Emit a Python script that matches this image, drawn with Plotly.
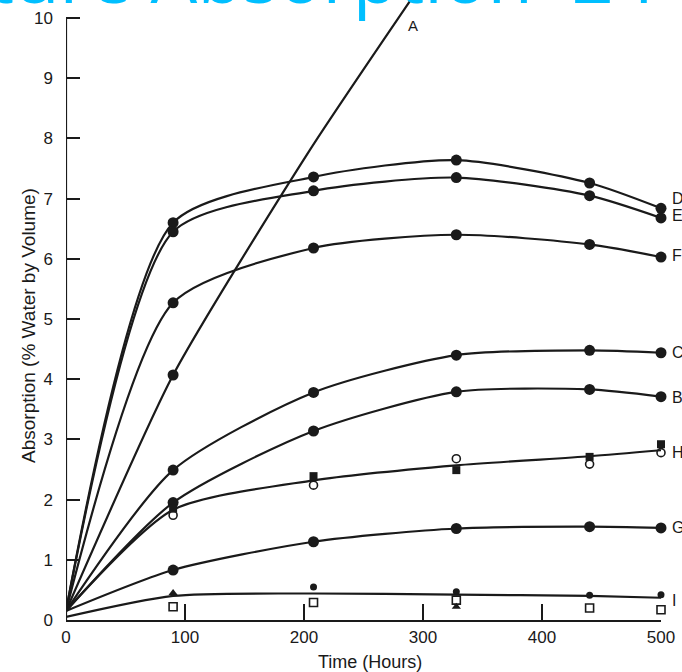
import plotly.graph_objects as go

# ---------------- data ----------------
time_h = [0, 90, 208, 328, 440, 500]

series_D = [0.15, 6.60, 7.36, 7.64, 7.26, 6.84]
series_E = [0.15, 6.45, 7.13, 7.35, 7.05, 6.68]
series_F = [0.15, 5.27, 6.18, 6.40, 6.24, 6.03]
series_C = [0.15, 2.49, 3.78, 4.40, 4.48, 4.44]
series_B = [0.15, 1.95, 3.14, 3.79, 3.83, 3.71]
series_G = [0.15, 0.83, 1.30, 1.52, 1.55, 1.53]
curve_H = [0.15, 1.83, 2.32, 2.57, 2.72, 2.82]
curve_I = [0.05, 0.40, 0.44, 0.42, 0.40, 0.37]

# line A (only one plotted point, at 90 h)
time_A = [0, 90, 205, 300]
curve_A = [0.15, 4.07, 7.81, 10.6]
point_A_time = [90]
point_A = [4.07]

# H markers
H_time = [90, 208, 328, 440, 500]
H_filled = [1.85, 2.39, 2.49, 2.71, 2.92]
H_open = [1.74, 2.24, 2.68, 2.59, 2.78]

# I markers
I_circle_time = [208, 328, 440, 500]
I_circle = [0.55, 0.47, 0.41, 0.42]
I_tri_time = [90, 328]
I_tri = [0.45, 0.22]
I_square_time = [90, 208, 328, 440, 500]
I_square = [0.22, 0.29, 0.33, 0.20, 0.17]

labels = ["D", "E", "F", "C", "B", "H", "G", "I"]
label_y = [7.0, 6.72, 6.06, 4.45, 3.69, 2.79, 1.53, 0.33]

x_ticks = [0, 100, 200, 300, 400, 500]
y_ticks = list(range(0, 11))

INK = "#1a1a1a"
FONT = "Liberation Sans, Arial, sans-serif"
fig = go.Figure()

def curve(x, y, smooth=0.8):
    fig.add_trace(go.Scatter(x=x, y=y, mode="lines",
                             line=dict(color=INK, width=2.2, shape="spline", smoothing=smooth),
                             hoverinfo="skip", showlegend=False))

def dots(x, y, symbol="circle", size=11, color=INK, line_w=0):
    fig.add_trace(go.Scatter(x=x, y=y, mode="markers", cliponaxis=False,
                             marker=dict(symbol=symbol, size=size, color=color,
                                         line=dict(color=INK, width=line_w)),
                             showlegend=False))

curve(time_A, curve_A, 0.6)
for s in [series_D, series_E, series_F, series_C, series_B, series_G]:
    curve(time_h, s, 0.7)
curve(time_h, curve_H, 0.7)
curve(time_h, curve_I, 0.7)

for s in [series_D, series_E, series_F, series_C, series_B, series_G]:
    dots(time_h[1:], s[1:])
dots(point_A_time, point_A)
dots(H_time, H_filled, "square", 8)
dots(H_time, H_open, "circle-open", 8, INK, 1.6)
dots(I_circle_time, I_circle, "circle", 7)
dots(I_tri_time, I_tri, "triangle-up", 8)
dots(I_square_time, I_square, "square-open", 8, INK, 1.6)

for t, y in zip(labels, label_y):
    fig.add_annotation(x=500, y=y, text=t, showarrow=False, xanchor="left",
                       xshift=9, font=dict(family=FONT, size=16, color=INK))
fig.add_annotation(x=292, y=9.88, text="A", showarrow=False,
                   font=dict(family=FONT, size=15, color=INK))

# axis titles placed as rotated / plain text annotations
fig.add_annotation(x=(28 - 66) / 595, y=(620 - 326) / 620, xref="paper", yref="paper",
                   xanchor="center", yanchor="middle",
                   text="Absorption (% Water by Volume)", textangle=-90, showarrow=False,
                   font=dict(family=FONT, size=19, color=INK))
fig.add_annotation(x=(370 - 66) / 595, y=(620 - 662) / 620, xref="paper", yref="paper",
                   xanchor="center", yanchor="middle",
                   text="Time (Hours)", showarrow=False,
                   font=dict(family=FONT, size=18, color=INK))

# y axis line only up to 10
fig.add_shape(type="line", x0=0, x1=0, y0=0, y1=10, xref="x", yref="y",
              line=dict(color=INK, width=2.2))

fig.update_layout(
    width=682, height=672,
    margin=dict(l=66, r=21, t=0, b=52, autoexpand=False),
    paper_bgcolor="white", plot_bgcolor="white",
    title=dict(text="Moisture Absorption\u00a0\u00a024 Hours", x=0.5 + 13 / 682,
               xanchor="center", xref="container", yref="container",
               y=(672 - 3) / 672, yanchor="bottom",
               font=dict(family="Open Sans, sans-serif", size=74, color="#00bfff")),
    font=dict(family=FONT, size=16, color=INK),
)
fig.update_xaxes(range=[0, 500], tickvals=x_ticks, ticks="inside", ticklen=16,
                 tickwidth=1.6, tickcolor=INK, showgrid=False, zeroline=False,
                 showline=True, linecolor=INK, linewidth=2.2, automargin=False,
                 tickfont=dict(size=17))
fig.update_yaxes(range=[0, 10.3], tickvals=y_ticks, ticks="inside", ticklen=14,
                 tickwidth=1.6, tickcolor=INK, showgrid=False, zeroline=False,
                 showline=False, ticklabelstandoff=12, automargin=False,
                 tickfont=dict(size=17))

fig.write_html("out.html", config={"displayModeBar": False},
               post_script="document.body.style.margin='0';")
